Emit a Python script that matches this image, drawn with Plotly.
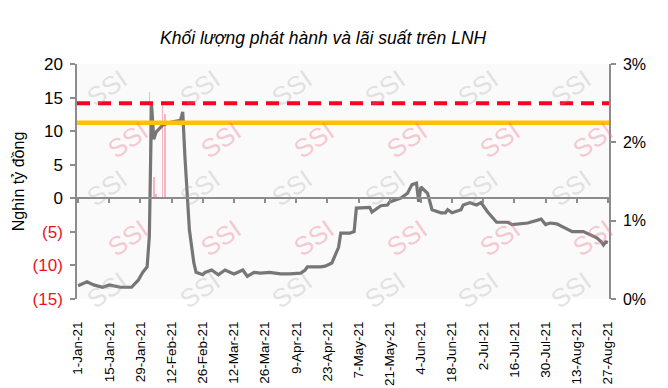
import plotly.graph_objects as go

# ---------------- data ----------------
rate_dates = [
    "2021-01-01", "2021-01-05", "2021-01-08", "2021-01-12", "2021-01-15", "2021-01-20",
    "2021-01-25", "2021-01-28", "2021-01-30", "2021-02-01", "2021-02-02", "2021-02-03",
    "2021-02-04", "2021-02-05", "2021-02-08", "2021-02-12", "2021-02-16", "2021-02-17",
    "2021-02-18", "2021-02-19", "2021-02-20", "2021-02-22", "2021-02-23", "2021-02-26",
    "2021-02-27", "2021-03-02", "2021-03-05", "2021-03-08", "2021-03-12", "2021-03-16",
    "2021-03-18", "2021-03-21", "2021-03-24", "2021-03-28", "2021-04-02", "2021-04-06",
    "2021-04-11", "2021-04-13", "2021-04-14", "2021-04-20", "2021-04-22", "2021-04-25",
    "2021-04-27", "2021-04-28", "2021-04-29", "2021-05-03", "2021-05-05", "2021-05-06",
    "2021-05-12", "2021-05-13", "2021-05-17", "2021-05-20", "2021-05-21", "2021-05-26",
    "2021-05-29", "2021-05-31", "2021-06-02", "2021-06-03", "2021-06-04", "2021-06-07",
    "2021-06-09", "2021-06-13", "2021-06-15", "2021-06-16", "2021-06-18", "2021-06-22",
    "2021-06-23", "2021-06-26", "2021-06-29", "2021-07-01", "2021-07-04", "2021-07-08",
    "2021-07-13", "2021-07-15", "2021-07-22", "2021-07-28", "2021-07-30", "2021-08-01",
    "2021-08-04", "2021-08-07", "2021-08-11", "2021-08-16", "2021-08-19", "2021-08-22",
    "2021-08-24", "2021-08-25", "2021-08-26", "2021-08-27",
]
rate_values = [
    0.17, 0.22, 0.18, 0.15, 0.18, 0.15,
    0.15, 0.24, 0.34, 0.41, 0.80, 2.48,
    2.04, 2.13, 2.22, 2.26, 2.28, 2.39,
    1.81, 1.26, 0.88, 0.46, 0.34, 0.31,
    0.34, 0.37, 0.31, 0.37, 0.32, 0.37,
    0.29, 0.34, 0.33, 0.34, 0.32, 0.32,
    0.33, 0.37, 0.41, 0.41, 0.42, 0.46,
    0.59, 0.66, 0.84, 0.84, 0.86, 1.16,
    1.17, 1.11, 1.19, 1.20, 1.24, 1.29,
    1.35, 1.46, 1.48, 1.24, 1.43, 1.35,
    1.14, 1.10, 1.10, 1.14, 1.10, 1.14,
    1.20, 1.23, 1.20, 1.23, 1.11, 0.98,
    0.98, 0.95, 0.97, 1.02, 0.95, 0.97,
    0.96, 0.92, 0.86, 0.86, 0.82, 0.78,
    0.73, 0.69, 0.73, 0.72,
]

issue_dates = ["2021-02-02", "2021-02-04", "2021-02-05", "2021-02-08", "2021-02-09"]
issue_values = [15.8, 3.1, 0.6, 14.4, 12.5]

ref_dates = ["2020-12-31 12:00", "2021-08-27 12:00"]
ceiling_rate = [2.5, 2.5]      # red dashed
orange_rate = [2.25, 2.25]     # orange solid

tick_vals = [
    "2021-01-01", "2021-01-15", "2021-01-29", "2021-02-12", "2021-02-26", "2021-03-12",
    "2021-03-26", "2021-04-09", "2021-04-23", "2021-05-07", "2021-05-21", "2021-06-04",
    "2021-06-18", "2021-07-02", "2021-07-16", "2021-07-30", "2021-08-13", "2021-08-27",
]
tick_labels = [
    "1-Jan-21", "15-Jan-21", "29-Jan-21", "12-Feb-21", "26-Feb-21", "12-Mar-21",
    "26-Mar-21", "9-Apr-21", "23-Apr-21", "7-May-21", "21-May-21", "4-Jun-21",
    "18-Jun-21", "2-Jul-21", "16-Jul-21", "30-Jul-21", "13-Aug-21", "27-Aug-21",
]

left_vals = [20, 15, 10, 5, 0, -5, -10, -15]
left_text = ["20", "15", "10", "5", "0",
             '<span style="color:#e8141c">(5)</span>',
             '<span style="color:#e8141c">(10)</span>',
             '<span style="color:#e8141c">(15)</span>']
right_vals = [0, 1, 2, 3]
right_text = ["0%", "1%", "2%", "3%"]

title_text = "<i>Khối lượng phát hành và lãi suất trên LNH</i>"
left_title = "Nghìn tỷ đồng"

# ---------------- style ----------------
FONT = "Liberation Sans, Arial, sans-serif"
AXIS_COLOR = "#8c8c8c"
x_range = ["2020-12-31 12:00", "2021-08-27 12:00"]

fig = go.Figure()

fig.add_trace(go.Bar(
    x=issue_dates, y=issue_values, xaxis="x", yaxis="y",
    marker=dict(color="#f7b3c0", line=dict(width=0)),
    width=0.25 * 86400000, showlegend=False, hoverinfo="skip",
))
fig.add_trace(go.Scatter(
    x=rate_dates, y=rate_values, xaxis="x", yaxis="y2", mode="lines",
    line=dict(color="#767676", width=3.2), showlegend=False,
))
fig.add_trace(go.Scatter(
    x=ref_dates, y=orange_rate, xaxis="x", yaxis="y2", mode="lines",
    line=dict(color="#ffc000", width=4.5), showlegend=False,
))
fig.add_trace(go.Scatter(
    x=ref_dates, y=ceiling_rate, xaxis="x", yaxis="y2", mode="lines",
    line=dict(color="#ff0022", width=4, dash="13px,8px"), showlegend=False,
))

# watermark "SSI"
gray_cols = [107, 200, 292, 385, 478, 571]
pink_cols = [128, 221, 314, 407, 500, 593]
annotations = []
for yy in [88, 188, 290]:
    for xx in gray_cols:
        annotations.append(dict(x=(xx - 77) / 532, y=(299 - yy) / 235, xref="paper", yref="paper",
                                xanchor="center", yanchor="middle",
                                text="SSI", showarrow=False, textangle=-35,
                                font=dict(family=FONT, size=26, color="rgba(150,150,150,0.26)")))
for yy in [140, 238]:
    for xx in pink_cols:
        annotations.append(dict(x=(xx - 77) / 532, y=(299 - yy) / 235, xref="paper", yref="paper",
                                xanchor="center", yanchor="middle",
                                text="SSI", showarrow=False, textangle=-35,
                                font=dict(family=FONT, size=26, color="rgba(236,110,135,0.36)")))

annotations.append(dict(x=0.5, y=1, xref="paper", yref="paper", yanchor="bottom",
                        yshift=14, xshift=-20, text=title_text, showarrow=False,
                        font=dict(family=FONT, size=17.5, color="#000000")))

fig.update_layout(
    width=668, height=388,
    margin=dict(l=77, r=59, t=64, b=89, autoexpand=False),
    paper_bgcolor="#ffffff", plot_bgcolor="#fafafa",
    font=dict(family=FONT, color="#000000"),
    showlegend=False,
    annotations=annotations,
    bargap=0,
    xaxis=dict(
        type="date", range=x_range, tickvals=tick_vals, ticktext=tick_labels,
        tickangle=-90, showgrid=False, zeroline=False,
        anchor="free", position=15 / 35, side="bottom",
        showline=True, linecolor=AXIS_COLOR, linewidth=1.5,
        ticks="outside", ticklen=4, tickcolor=AXIS_COLOR, tickwidth=1.5,
        tickfont=dict(family=FONT, size=13.5, color="#000000"),
        ticklabelstandoff=113, automargin=False,
    ),
    yaxis=dict(
        range=[-15, 20], tickvals=left_vals, ticktext=left_text,
        showgrid=False, zeroline=False, showline=True, linecolor=AXIS_COLOR, linewidth=1.5,
        ticks="outside", ticklen=5, tickcolor=AXIS_COLOR, tickwidth=1.5,
        tickfont=dict(family=FONT, size=17, color="#000000"), ticklabelstandoff=4,
        title=dict(text=left_title, font=dict(family=FONT, size=16, color="#000000"), standoff=4),
        automargin=False,
    ),
    yaxis2=dict(
        range=[0, 3], tickvals=right_vals, ticktext=right_text, overlaying="y", side="right",
        anchor="x",
        showgrid=False, zeroline=False, showline=True, linecolor=AXIS_COLOR, linewidth=1.5,
        ticks="outside", ticklen=5, tickcolor=AXIS_COLOR, tickwidth=1.5,
        tickfont=dict(family=FONT, size=16, color="#000000"), ticklabelstandoff=4,
        automargin=False,
    ),
)

fig.write_html("out.html", config={"displayModeBar": False})
with open("out.html", "r", encoding="utf-8") as f:
    html = f.read()
html = html.replace("<head>", "<head><style>html,body{margin:0;padding:0;}</style>", 1)
with open("out.html", "w", encoding="utf-8") as f:
    f.write(html)
